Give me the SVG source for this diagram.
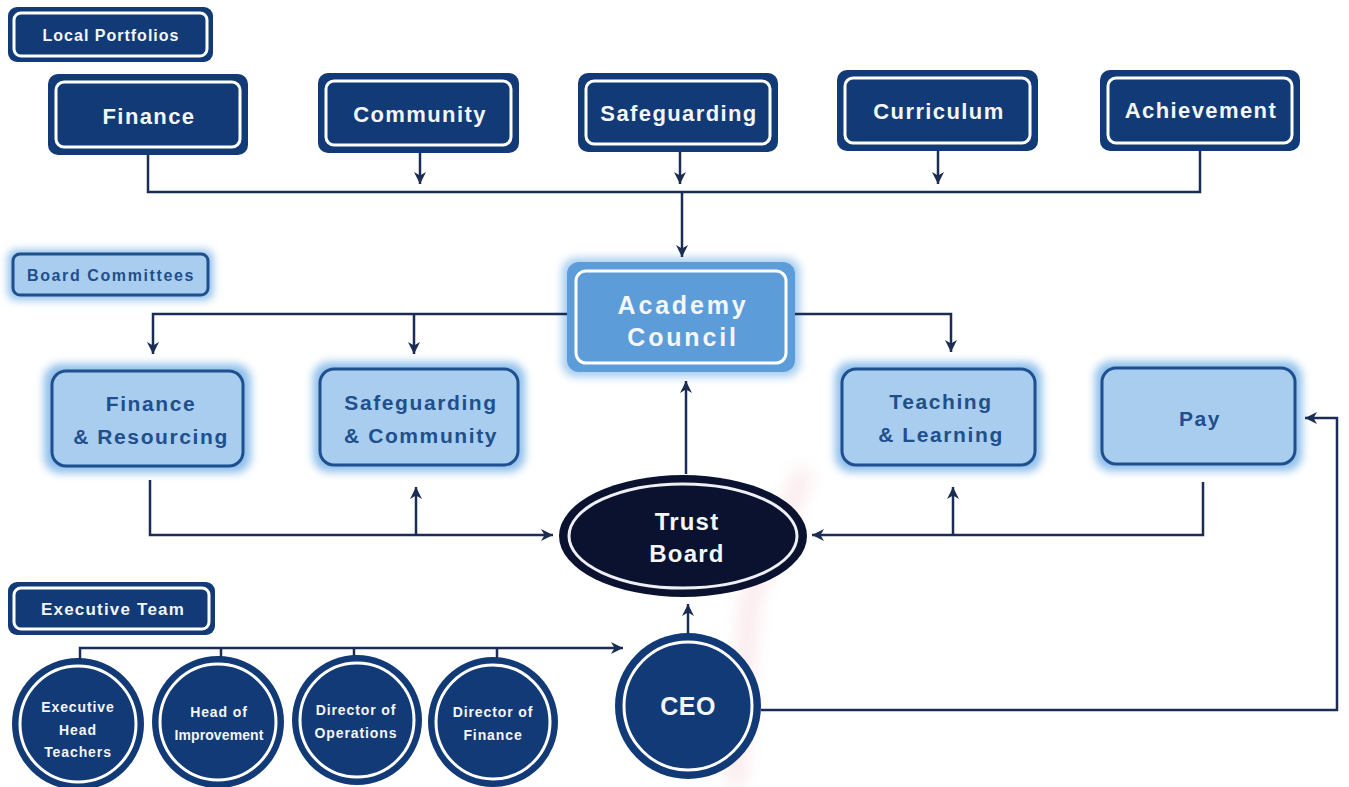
<svg xmlns="http://www.w3.org/2000/svg" width="1349" height="787" viewBox="0 0 1349 787">
  <defs>
    <style>
      text { font-family: "Liberation Sans", Arial, sans-serif; font-weight: bold; text-anchor: middle; dominant-baseline: central; }
      .navy { fill: #123a76; }
      .ring { fill: none; stroke: #ffffff; stroke-width: 3; }
      .wt { fill: #f4f6fa; }
      .bt { fill: #1f4f8c; }
      .lp { font-size: 22px; letter-spacing: 1.4px; }
      .bc { font-size: 21px; letter-spacing: 1.6px; }
      .tab { font-size: 16px; letter-spacing: 1px; }
      .cir { font-size: 14px; letter-spacing: 0.9px; }
      .soft { fill: #8fbfeb; filter: url(#glow); }
      .pale { fill: #a9cdef; stroke: #1e4f8e; stroke-width: 3; }
      .link { fill: none; stroke: #1b2d55; stroke-width: 2.5; }
      .arrow { fill: none; stroke: #1b2d55; stroke-width: 2.5; marker-end: url(#head); }
    </style>
    <filter id="glow" x="-20%" y="-30%" width="140%" height="160%">
      <feGaussianBlur stdDeviation="4"/>
    </filter>
    <filter id="haze" x="-50%" y="-50%" width="200%" height="200%">
      <feGaussianBlur stdDeviation="9"/>
    </filter>
    <marker id="head" markerUnits="userSpaceOnUse" markerWidth="14" markerHeight="14" refX="12" refY="6" orient="auto">
      <path d="M0,0 L12,6 L0,12 L3.5,6 Z" fill="#1b2d55"/>
    </marker>
  </defs>

  <rect width="1349" height="787" fill="#ffffff"/>

  <!-- faint background mark -->
  <g opacity="0.15" filter="url(#haze)">
    <path d="M805,470 L750,600 L735,787" fill="none" stroke="#e05a6a" stroke-width="16"/>
  </g>

  <!-- section tabs -->
  <g id="tab-local">
    <rect class="navy" x="8" y="7" width="205" height="55" rx="9"/>
    <rect class="ring" x="14" y="13" width="193" height="43" rx="7"/>
    <text class="wt tab" x="111" y="35">Local Portfolios</text>
  </g>
  <g id="tab-board">
    <rect class="soft" x="8" y="250" width="205" height="50" rx="8"/>
    <rect class="pale" x="13" y="254" width="195" height="41" rx="7" stroke-width="2.5"/>
    <text class="bt tab" x="111" y="275" style="letter-spacing:1.6px">Board Committees</text>
  </g>
  <g id="tab-exec">
    <rect class="navy" x="8" y="582" width="207" height="53" rx="9"/>
    <rect class="ring" x="14" y="588" width="195" height="41" rx="7"/>
    <text class="wt tab" x="113" y="609" style="font-size:17px;letter-spacing:1.2px">Executive Team</text>
  </g>

  <!-- local portfolios -->
  <g id="lp-finance">
    <rect class="navy" x="48" y="74" width="200" height="81" rx="10"/>
    <rect class="ring" x="56" y="82" width="184" height="65" rx="8"/>
    <text class="wt lp" x="149" y="116">Finance</text>
  </g>
  <g id="lp-community">
    <rect class="navy" x="318" y="73" width="201" height="80" rx="10"/>
    <rect class="ring" x="326" y="81" width="185" height="64" rx="8"/>
    <text class="wt lp" x="420" y="114">Community</text>
  </g>
  <g id="lp-safeguarding">
    <rect class="navy" x="578" y="73" width="200" height="79" rx="10"/>
    <rect class="ring" x="586" y="81" width="184" height="63" rx="8"/>
    <text class="wt lp" x="679" y="113">Safeguarding</text>
  </g>
  <g id="lp-curriculum">
    <rect class="navy" x="837" y="70" width="201" height="81" rx="10"/>
    <rect class="ring" x="845" y="78" width="185" height="65" rx="8"/>
    <text class="wt lp" x="939" y="111">Curriculum</text>
  </g>
  <g id="lp-achievement">
    <rect class="navy" x="1100" y="70" width="200" height="81" rx="10"/>
    <rect class="ring" x="1108" y="78" width="184" height="65" rx="8"/>
    <text class="wt lp" x="1201" y="110">Achievement</text>
  </g>

  <!-- academy council -->
  <g id="academy-council">
    <rect x="562" y="258" width="238" height="119" rx="14" fill="#a6cdf0" filter="url(#glow)"/>
    <rect x="567" y="262" width="228" height="110" rx="12" fill="#5c9cd9"/>
    <rect class="ring" x="576" y="271" width="210" height="92" rx="10"/>
    <text class="wt" x="683" y="305" font-size="25" letter-spacing="2.8">Academy</text>
    <text class="wt" x="683" y="337" font-size="25" letter-spacing="2.8">Council</text>
  </g>

  <!-- board committees -->
  <g id="bc-finance">
    <rect class="soft" x="44" y="364" width="207" height="109" rx="16"/>
    <rect class="pale" x="52" y="371" width="191" height="95" rx="14"/>
    <text class="bt bc" x="151" y="403">Finance</text>
    <text class="bt bc" x="151" y="436">&amp; Resourcing</text>
  </g>
  <g id="bc-safeguarding">
    <rect class="soft" x="313" y="362" width="212" height="110" rx="16"/>
    <rect class="pale" x="320" y="369" width="198" height="96" rx="14"/>
    <text class="bt bc" x="421" y="402">Safeguarding</text>
    <text class="bt bc" x="421" y="435">&amp; Community</text>
  </g>
  <g id="bc-teaching">
    <rect class="soft" x="835" y="362" width="207" height="110" rx="16"/>
    <rect class="pale" x="842" y="369" width="193" height="96" rx="14"/>
    <text class="bt bc" x="941" y="401">Teaching</text>
    <text class="bt bc" x="941" y="434">&amp; Learning</text>
  </g>
  <g id="bc-pay">
    <rect class="soft" x="1095" y="361" width="207" height="110" rx="16"/>
    <rect class="pale" x="1102" y="368" width="193" height="96" rx="14"/>
    <text class="bt bc" x="1200" y="418">Pay</text>
  </g>

  <!-- trust board -->
  <g id="trust-board">
    <ellipse cx="683" cy="536" rx="124" ry="61" fill="#0b1230"/>
    <ellipse cx="683" cy="536" rx="114" ry="52" fill="none" stroke="#eef0f6" stroke-width="3"/>
    <text class="wt" x="687" y="521" font-size="24" letter-spacing="1.2">Trust</text>
    <text class="wt" x="687" y="553" font-size="24" letter-spacing="1.2">Board</text>
  </g>

  <!-- executive team -->
  <g id="ceo">
    <circle class="navy" cx="688" cy="706" r="73"/>
    <circle class="ring" cx="688" cy="706" r="64"/>
    <text class="wt" x="688" y="706" font-size="25" letter-spacing="0.5">CEO</text>
  </g>
  <g id="exec-heads">
    <circle class="navy" cx="78" cy="724" r="66"/>
    <circle class="ring" cx="78" cy="724" r="58"/>
    <text class="wt cir" x="78" y="707">Executive</text>
    <text class="wt cir" x="78" y="730">Head</text>
    <text class="wt cir" x="78" y="752">Teachers</text>
  </g>
  <g id="head-improvement">
    <circle class="navy" cx="218" cy="722" r="66"/>
    <circle class="ring" cx="218" cy="722" r="58"/>
    <text class="wt cir" x="219" y="712">Head of</text>
    <text class="wt cir" x="219" y="735" style="letter-spacing:0.1px">Improvement</text>
  </g>
  <g id="dir-operations">
    <circle class="navy" cx="357" cy="720" r="65"/>
    <circle class="ring" cx="357" cy="720" r="57"/>
    <text class="wt cir" x="356" y="710">Director of</text>
    <text class="wt cir" x="356" y="733">Operations</text>
  </g>
  <g id="dir-finance">
    <circle class="navy" cx="493" cy="722" r="65"/>
    <circle class="ring" cx="493" cy="722" r="57"/>
    <text class="wt cir" x="493" y="712">Director of</text>
    <text class="wt cir" x="493" y="735">Finance</text>
  </g>

  <!-- connectors -->
  <g id="connectors">
    <path class="link" d="M148,155 V192 H1200 V151"/>
    <path class="arrow" d="M420,153 V184"/>
    <path class="arrow" d="M680,152 V184"/>
    <path class="arrow" d="M938,151 V184"/>
    <path class="arrow" d="M682,192 V257"/>

    <path class="arrow" d="M567,314 H153 V354"/>
    <path class="arrow" d="M414,314 V354"/>
    <path class="arrow" d="M795,314 H951 V352"/>

    <path class="arrow" d="M150,480 V535 H553"/>
    <path class="arrow" d="M416,535 V487"/>
    <path class="arrow" d="M1203,482 V535 H812"/>
    <path class="arrow" d="M953,535 V487"/>

    <path class="arrow" d="M686,474 V381"/>
    <path class="arrow" d="M688,633 V604"/>

    <path class="arrow" d="M80,660 V648 H623"/>
    <path class="link" d="M221,648 V657"/>
    <path class="link" d="M354,648 V656"/>
    <path class="link" d="M497,648 V658"/>

    <path class="arrow" d="M761,710 H1337 V418 H1305"/>
  </g>
</svg>
